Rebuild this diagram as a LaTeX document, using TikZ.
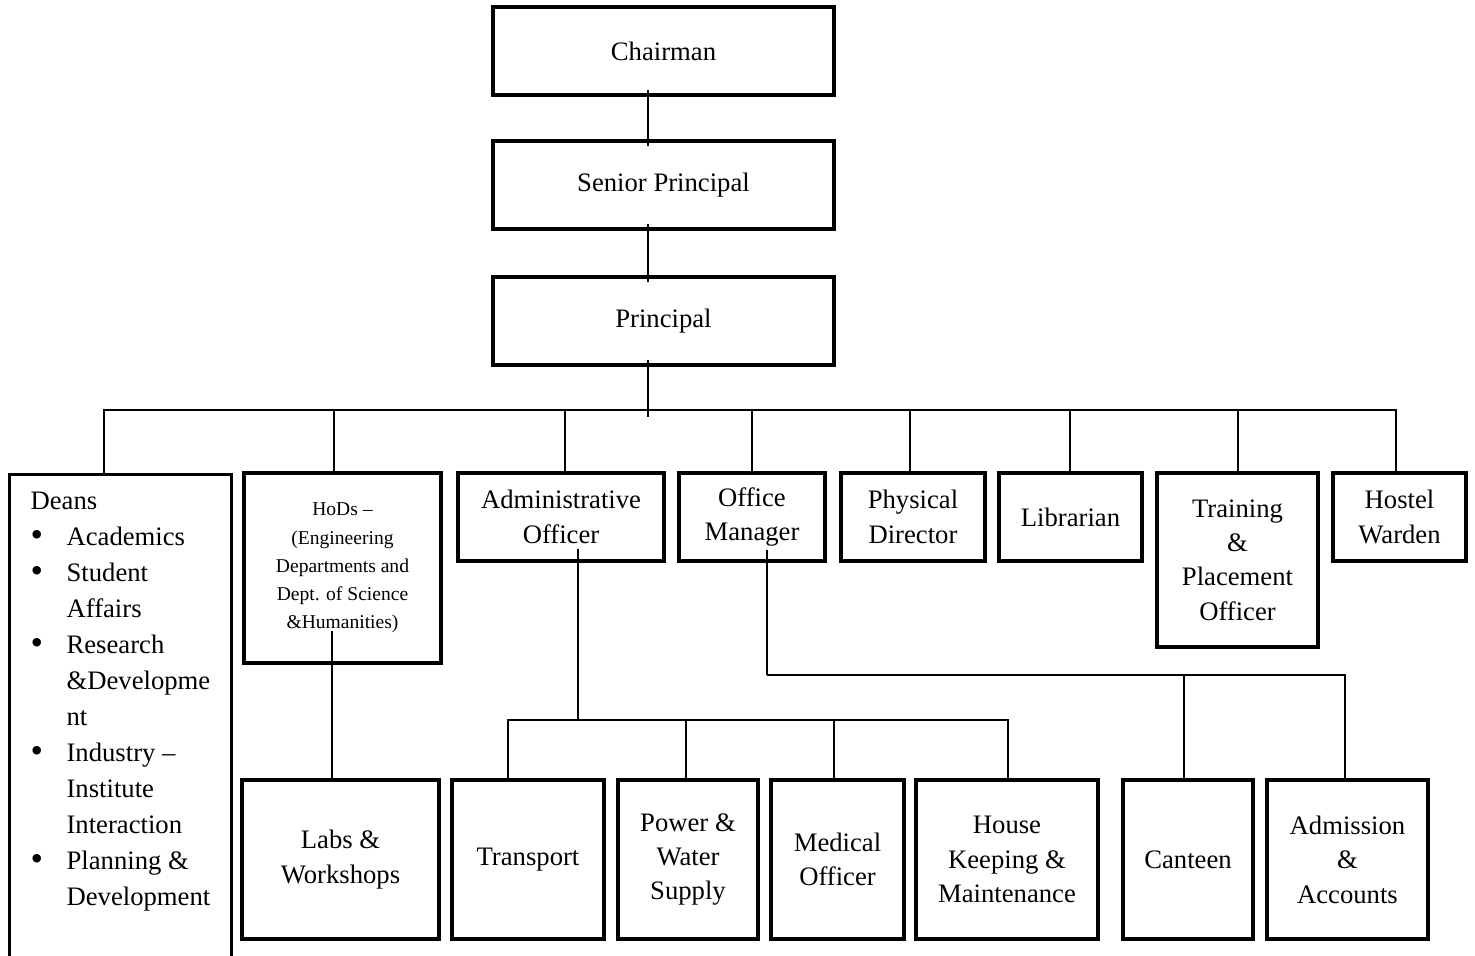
\documentclass[tikz,border=0pt]{standalone}
\usepackage{fontspec}
\setmainfont{Liberation Serif}
\newcommand\deanbullet{\hspace*{0pt}\makebox[16.2pt][l]{\raisebox{-0.4pt}{\fontsize{16}{16}\selectfont\textbullet}}}
\newcommand\deanmore{\hspace*{16.2pt}}
\begin{document}
\begin{tikzpicture}[x=0.45pt, y=-0.45pt,
	box/.style={draw, line width=1.45pt, align=center, inner sep=1pt,
		font=\fontsize{12}{15.5}\selectfont},
	wh/.style 2 args={minimum width=#1*0.45pt, minimum height=#2*0.45pt},
	link/.style={line width=0.9pt},
	stub/.style={link, shorten <=-3pt, shorten >=-3pt}
	]
	\useasboundingbox (0,0) rectangle (1475,956);
	
	% top of the chart
	\node [box, wh={341}{88}] (chair) at (663.5,51) {Chairman};
	\node [box, wh={341}{88}] (senior) at (663.5,185) {Senior Principal};
	\node [box, wh={341}{88}] (principal) at (663.5,321) {Principal};
	\coordinate (spine) at (648,410);
	
	\draw [stub] (chair.south -| spine) -- (senior.north -| spine);
	\draw [stub] (senior.south -| spine) -- (principal.north -| spine);
	\draw [stub] (principal.south -| spine) -- (spine);
	
	% second row
	\node [draw, line width=1.45pt, anchor=north west, inner xsep=9.45pt, inner ysep=8pt,
		font=\fontsize{12}{16.2}\selectfont] (deans) at (8,473)
		{\parbox[t][214pt][t]{81pt}{\raggedright Deans\\
		\deanbullet Academics\\
		\deanbullet Student\\
		\deanmore Affairs\\
		\deanbullet Research\\
		\deanmore \&Developme\\
		\deanmore nt\\
		\deanbullet Industry –\\
		\deanmore Institute\\
		\deanmore Interaction\\
		\deanbullet Planning \&\\
		\deanmore Development}};
	\node [box, wh={197}{190}, font=\fontsize{8.8}{12.7}\selectfont] (hods) at (342.5,568)
		{HoDs –\\(Engineering\\Departments and\\Dept. of Science\\\&Humanities)};
	\node [box, wh={206}{88}] (admin) at (561,517) {Administrative\\Officer};
	\node [box, wh={146}{88}] (office) at (752,517) {Office\\Manager};
	\node [box, wh={144}{88}] (physical) at (913,517) {Physical\\Director};
	\node [box, wh={143}{88}] (librarian) at (1070.5,517) {Librarian};
	\node [box, wh={161}{174}] (training) at (1237.5,560) {Training\\\&\\Placement\\Officer};
	\node [box, wh={133}{88}] (warden) at (1399.5,517) {Hostel\\Warden};
	
	\foreach \n/\dx in {deans/-17, hods/-8.5, admin/4, office/0, physical/-3,
		librarian/-0.5, training/0.5, warden/-3.5}
		\draw [link] ([xshift=\dx*0.45pt]\n.north) |- (spine);
	
	% third row
	\node [box, wh={197}{159}] (labs) at (340.5,859.5) {Labs \&\\Workshops};
	\node [box, wh={152}{159}] (transport) at (528,859.5) {Transport};
	\node [box, wh={140}{159}] (power) at (688,859.5) {Power \&\\Water\\Supply};
	\node [box, wh={133}{159}] (medical) at (837.5,859.5) {Medical\\Officer};
	\node [box, wh={182}{159}] (house) at (1007,859.5) {House\\Keeping \&\\Maintenance};
	\node [box, wh={130}{159}] (canteen) at (1188,859.5) {Canteen};
	\node [box, wh={161}{159}] (admission) at (1347.5,859.5) {Admission\\\&\\Accounts};
	
	\draw [link] ([xshift=-8.5*0.45pt]labs.north) -- +(0,-147);
	
	\coordinate (adminhub) at (578,720);
	\draw [link] ([xshift=17*0.45pt, yshift=14*0.45pt]admin.south) -- (adminhub);
	\foreach \n/\dx in {transport/-20, power/-2, medical/-3.5, house/1}
		\draw [link] ([xshift=\dx*0.45pt]\n.north) |- (adminhub);
	
	\coordinate (officehub) at (767,675);
	\draw [link] ([xshift=15*0.45pt, yshift=13*0.45pt]office.south) -- (officehub);
	\foreach \n/\dx in {canteen/-4, admission/-2.5}
		\draw [link] ([xshift=\dx*0.45pt]\n.north) |- (officehub);
\end{tikzpicture}
\end{document}
